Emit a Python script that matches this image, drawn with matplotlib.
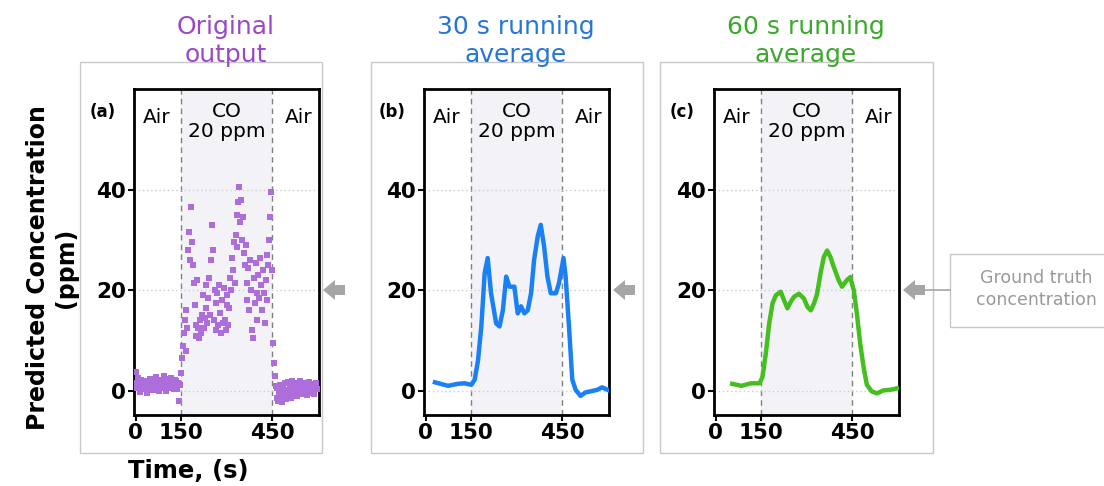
import numpy as np
import matplotlib.pyplot as plt
from matplotlib.patches import Rectangle, Polygon

#### datos
# original output, one value every 3 s from 0 to 597 s
t_raw = np.arange(0, 600, 3)
v_raw = [1.5, 3.8, 0.5, 2.6, 1.0, -0.2, 2.2, 0.8, 1.6, 0.3,
         2.0, 0.6, 1.2, -0.4, 1.8, 0.9, 2.4, 0.1, 1.3, 0.7,
         1.9, 0.2, 1.0, 2.8, 0.4, 1.5, -0.1, 1.1, 2.2, 0.6,
         1.4, 3.0, 0.8, 1.7, 0.0, 2.3, 1.2, 0.5, 1.8, 2.6,
         0.9, 1.6, 0.3, 2.1, 1.0, 1.9, 0.4, 1.5, -2.0, 1.2,
         3.5, 6.5, 9.0, 11.5, 14.0, 8.0, 16.0, 12.5, 28.0, 31.5,
         26.0, 36.5, 29.5, 25.0, 21.5, 17.0, 13.0, 11.0, 22.0, 12.5,
         10.5, 14.0, 11.5, 15.0, 19.0, 12.5, 14.5, 16.5, 21.0, 13.5,
         18.5, 22.5, 15.0, 26.0, 33.0, 28.0, 14.0, 20.0, 12.0, 17.5,
         19.5, 13.0, 21.0, 15.5, 11.5, 18.0, 13.5, 20.5, 14.0, 12.0,
         17.0, 19.0, 13.0, 16.5, 22.5, 20.0, 26.5, 24.0, 29.5, 21.5,
         31.0, 35.0, 28.5, 37.5, 40.5, 33.5, 38.0, 30.0, 34.5, 27.5,
         25.0, 29.0, 21.5, 18.0, 24.5, 16.0, 26.0, 20.0, 12.0, 10.5,
         22.5, 17.5, 25.5, 19.5, 14.0, 23.0, 18.5, 26.5, 21.0, 16.0,
         24.0, 19.5, 13.5, 22.0, 27.0, 18.0, 25.0, 30.0, 34.5, 39.5,
         24.0, 9.5, 5.5, 3.0, 1.0, -1.5, 0.5, -2.0, -0.5, 1.2,
         -1.0, -2.2, 0.3, -0.8, 1.5, -1.6, 0.2, -1.2, 1.8, -0.4,
         0.8, -1.5, 2.0, 0.1, -0.9, 1.3, -0.2, 0.9, -1.1, 1.6,
         0.0, 1.9, -0.6, 0.7, 1.2, -0.3, 1.5, 0.4, -0.8, 1.0,
         0.6, 1.7, -0.5, 1.1, 0.2, 1.4, -0.7, 0.9, 1.6, 0.3]

# 30 s running average
t_30 = [31, 74, 107, 129, 151, 162, 173, 184, 195, 205, 216, 233, 244, 255,
        266, 277, 293, 304, 315, 326, 337, 348, 358, 370, 380, 391, 402, 413,
        430, 440, 455, 462, 473, 484, 495, 511, 528, 544, 566, 582, 604]
v_30 = [1.7, 1.0, 1.4, 1.5, 1.2, 2.2, 6.0, 12.8, 23.4, 26.4, 19.4, 13.4, 12.8,
        16.0, 22.7, 20.7, 20.7, 15.4, 16.8, 15.4, 16.0, 19.4, 26.0, 30.7, 33.0,
        28.7, 22.7, 19.4, 19.4, 21.4, 26.4, 22.7, 12.8, 2.2, 0.2, -1.0, -0.3,
        -0.1, 0.2, 0.7, 0.1]

# 60 s running average
t_60 = [55, 85, 117, 145, 155, 166, 177, 188, 199, 215, 226, 237, 248, 259,
        275, 292, 303, 314, 325, 335, 346, 357, 368, 379, 390, 406, 417, 433,
        444, 456, 466, 477, 488, 499, 515, 532, 554, 576, 598]
v_60 = [1.4, 1.0, 1.5, 1.5, 2.8, 7.5, 13.4, 17.4, 19.0, 19.7, 18.0, 16.4, 17.7,
        18.7, 19.3, 18.3, 16.7, 16.0, 17.4, 19.3, 23.3, 26.6, 27.9, 26.6, 24.6,
        22.0, 20.7, 22.0, 22.6, 20.0, 15.4, 9.4, 4.8, 1.2, -0.1, -0.5, 0.1,
        0.2, 0.5]

titulos = ['Original\noutput', '30 s running\naverage', '60 s running\naverage']
color_titulo = ['#9a48c9', '#2476d8', '#3aa82a']
letras = ['(a)', '(b)', '(c)']
xticks = [0, 150, 450]
yticks = [0, 20, 40]

W, H = 1104, 486
fig = plt.figure(figsize=(W / 100, H / 100), dpi=100)


def px(x, y):
    # pixel (desde arriba a la izquierda) -> fraccion de figura
    return x / W, 1 - y / H


def caja(x0, y0, x1, y1, color='#c8c8c8'):
    fig.patches.append(Rectangle(px(x0, y1), (x1 - x0) / W, (y1 - y0) / H,
                                 transform=fig.transFigure, fill=False,
                                 edgecolor=color, linewidth=1.0, zorder=0))


def flecha(x, y):
    pts = [(x, y), (x + 12, y - 10), (x + 12, y - 5), (x + 22, y - 5),
           (x + 22, y + 5), (x + 12, y + 5), (x + 12, y + 10)]
    fig.patches.append(Polygon([px(a, b) for a, b in pts], closed=True,
                               transform=fig.transFigure, facecolor='#a6a6a6',
                               edgecolor='none'))


# cajas grises de cada panel
caja(80, 62, 322, 453)
caja(371, 62, 643, 453)
caja(660, 62, 933, 453)
caja(950, 254, 1110, 327)

lefts = [134, 424, 714]
axes = []
for i, L in enumerate(lefts):
    x0, y0 = px(L, 415)
    ax = fig.add_axes([x0, y0, 185 / W, 326 / H])
    ax.axvspan(150, 450, color='#f3f3f7', zorder=0, lw=0)
    for xv in (150, 450):
        ax.axvline(xv, color='#808080', ls=(0, (4, 3)), lw=1.0, zorder=1)
    for yv in yticks:
        ax.axhline(yv, color='#cccccc', ls=(0, (1, 2)), lw=1.0, zorder=1)
    ax.set_xlim(-5, 605)
    ax.set_ylim(-4.8, 60)
    ax.set_xticks(xticks)
    ax.set_yticks(yticks)
    ax.tick_params(direction='out', length=4, width=1.5, labelsize=15.5, pad=2)
    for lab in ax.get_xticklabels() + ax.get_yticklabels():
        lab.set_fontweight('bold')
    for s in ax.spines.values():
        s.set_linewidth(2)
    ax.text(69, 54.3, 'Air', ha='center', va='center', fontsize=14.5)
    ax.text(537, 54.3, 'Air', ha='center', va='center', fontsize=14.5)
    ax.text(300, 53.5, 'CO\n20 ppm', ha='center', va='center', fontsize=14.5,
            linespacing=1.05)
    ax.text(-0.17, 0.93, letras[i], transform=ax.transAxes, ha='center',
            va='center', fontsize=12, fontweight='bold')
    cx = L + 92
    fig.text(*px(cx, 41), titulos[i], ha='center', va='center', fontsize=18,
             color=color_titulo[i], linespacing=1.2)
    axes.append(ax)

axes[0].plot(t_raw, v_raw, 's', color='#ad6ddb', markersize=4.2,
             markeredgewidth=0, zorder=3)
axes[1].plot(t_30, v_30, color='#1a80f5', lw=3.2, zorder=3)
axes[2].plot(t_60, v_60, color='#44bf1f', lw=3.2, zorder=3)

# flechas de concentracion real
flecha(323, 290)
flecha(613, 290)
flecha(903, 290)
fig.add_artist(plt.Line2D([925 / W, 950 / W], [1 - 290 / H, 1 - 290 / H],
                          color='#a6a6a6', lw=1.2))
fig.text(*px(1036, 289), 'Ground truth\nconcentration', ha='center',
         va='center', fontsize=12.5, color='#999999', linespacing=1.25)

fig.text(*px(52, 268), 'Predicted Concentration\n(ppm)', ha='center',
         va='center', rotation=90, fontsize=17, fontweight='bold',
         linespacing=1.2)
fig.text(*px(188, 471), 'Time, (s)', ha='center', va='center', fontsize=17.5,
         fontweight='bold')

fig.savefig('out.png', dpi=100)
